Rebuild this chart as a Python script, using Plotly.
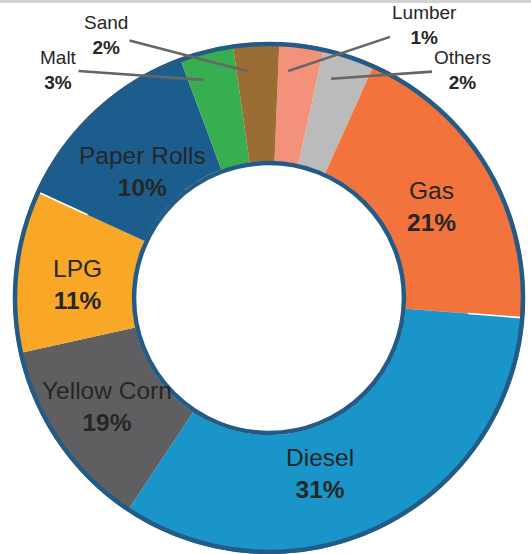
import math
import plotly.graph_objects as go

# ---- data ----
categories = ["Lumber", "Others", "Gas", "Diesel", "Yellow Corn", "LPG", "Paper Rolls", "Malt", "Sand"]
# drawn slice sizes (share of the ring, %) as they appear in the picture
shares = [2.8, 3.3, 19.5, 33.1, 12.2, 10.3, 12.5, 3.4, 2.9]
# percentages printed on the chart
pct_labels = ["1%", "2%", "21%", "31%", "19%", "11%", "10%", "3%", "2%"]
colors = ["#F3917A", "#BBBBBB", "#F2733C", "#1A95C9", "#5F5F61", "#F8A726", "#1B5E8E", "#37AE50", "#9B6C34"]

# ---- layout constants ----
W, H = 531, 554
CX, CY, R = 269, 298, 256           # pie centre / radius in pixels
HOLE = 0.535
ROT = 2.3
BORDER = "#245B86"
TXT = "#262626"
FONT = "Liberation Sans, Arial, sans-serif"
LEADER_R = 0.89                     # leader line end radius (fraction of R)
LEADER_DA = -2.5                    # leader line end angle offset from slice middle (deg)
GAP_AFTER = {"Gas", "LPG"}          # slices followed by a thin white seam

# label block centres in pixels, and which labels sit outside with leader lines
label_px = {
    "Lumber": (424, 25.5), "Others": (462, 69.5), "Gas": (431, 206.5),
    "Diesel": (320, 473.5), "Yellow Corn": (107, 406.5), "LPG": (77.5, 284.5),
    "Paper Rolls": (142, 171.5), "Malt": (58.5, 69.5), "Sand": (106, 34.5),
}
outside = {"Lumber", "Others", "Malt", "Sand"}


def px2paper(x, y):
    return x / W, 1 - y / H


def polar_px(deg, r):
    a = math.radians(deg)
    return CX + r * math.sin(a), CY - r * math.cos(a)


fig = go.Figure(go.Pie(
    labels=categories, values=shares, sort=False, direction="clockwise",
    rotation=ROT, hole=HOLE, textinfo="none", hoverinfo="label",
    marker=dict(colors=colors, line=dict(width=0)),
    domain=dict(x=[(CX - R) / W, (CX + R) / W], y=[(H - CY - R) / H, (H - CY + R) / H]),
    showlegend=False,
))

annotations = []
shapes = []
total = sum(shares)
cum = 0.0
for name, v, pct in zip(categories, shares, pct_labels):
    mid_deg = ROT + (cum + v / 2) / total * 360
    cum += v
    end_deg = ROT + cum / total * 360
    if name in GAP_AFTER:
        x0p, y0p = px2paper(*polar_px(end_deg, 0.78 * R))
        x1p, y1p = px2paper(*polar_px(end_deg, R))
        shapes.append(dict(type="line", xref="paper", yref="paper", x0=x0p, y0=y0p, x1=x1p, y1=y1p,
                           line=dict(color="white", width=1.6), layer="above"))
    lx, ly = label_px[name]
    if name in outside:
        ex, ey = polar_px(mid_deg + LEADER_DA, LEADER_R * R)
        x, y = px2paper(ex, ey)
        annotations.append(dict(
            x=x, y=y, xref="paper", yref="paper",
            ax=lx - ex, ay=ly - ey, showarrow=True, arrowhead=0,
            arrowwidth=2.6, arrowcolor="#666666", standoff=0, startstandoff=0,
            text=f"{name}<br><b>{pct}</b>",
            font=dict(family=FONT, size=19, color=TXT), align="center",
        ))
    else:
        x, y = px2paper(lx, ly)
        annotations.append(dict(
            x=x, y=y, xref="paper", yref="paper", showarrow=False,
            xanchor="center", yanchor="middle",
            text=f"{name}<br><b>{pct}</b>",
            font=dict(family=FONT, size=24.5, color=TXT), align="center",
        ))

# outer and inner ring outlines
for rr in (R - 2, R * HOLE - 2):
    x0, y0 = px2paper(CX - rr, CY + rr)
    x1, y1 = px2paper(CX + rr, CY - rr)
    shapes.append(dict(type="circle", xref="paper", yref="paper", x0=x0, y0=y0, x1=x1, y1=y1,
                       line=dict(color=BORDER, width=4.5), layer="above"))
# thin grey band at the top edge
shapes.append(dict(type="rect", xref="paper", yref="paper", x0=0, x1=1, y0=1 - 3 / H, y1=1,
                   fillcolor="#D2D2D2", line=dict(width=0), layer="above"))

fig.update_layout(
    width=W, height=H, margin=dict(l=0, r=0, t=0, b=0),
    paper_bgcolor="white", plot_bgcolor="white",
    annotations=annotations, shapes=shapes,
)

fig.write_html("out.html", config={"displayModeBar": False},
               post_script="document.body.style.margin='0';document.body.style.overflow='hidden';")
